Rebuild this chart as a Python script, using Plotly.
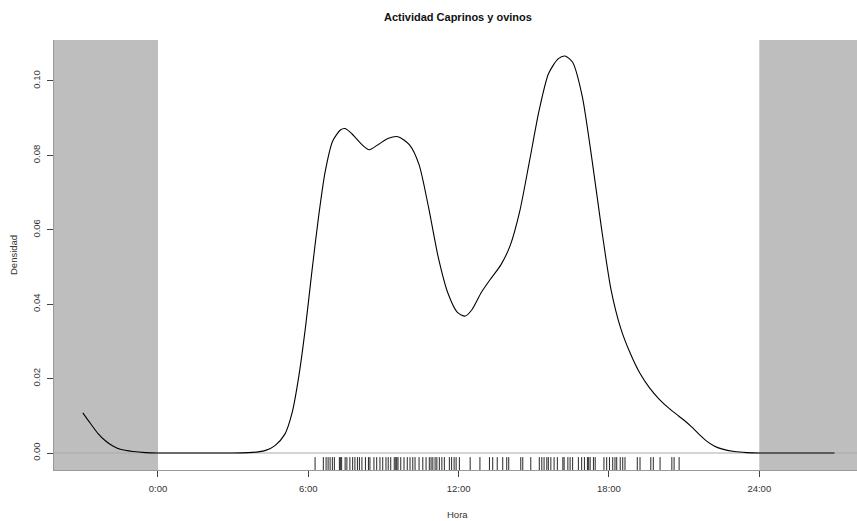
import plotly.graph_objects as go

# ---- data ----
curve_hour = [-3.0, -2.7, -2.4, -2.1, -1.8, -1.5, -1.0, -0.5, 0.0, 1.0, 2.0, 3.0, 3.6, 4.0, 4.3,
              4.67, 5.06, 5.36, 5.63, 5.9, 6.13, 6.4, 6.67, 6.97, 7.28, 7.47, 7.74, 8.12, 8.43,
              8.81, 9.2, 9.58, 10.04, 10.42, 10.8, 11.19, 11.57, 11.95, 12.26, 12.53, 12.91,
              13.3, 13.68, 14.06, 14.44, 14.83, 15.21, 15.59, 15.98, 16.25, 16.55, 16.93, 17.32,
              17.7, 18.08, 18.47, 18.85, 19.23, 19.62, 20.0, 20.4, 20.77, 21.0, 21.3, 21.6, 21.9,
              22.2, 22.5, 23.0, 23.5, 24.0, 25.0, 26.0, 27.0]
curve_dens = [0.0108, 0.0080, 0.0053, 0.0033, 0.0019, 0.0010, 0.0004, 0.0001, 0.0, 0.0, 0.0, 0.0,
              0.0001, 0.0003, 0.0007, 0.0020, 0.0050, 0.0110, 0.0210, 0.0345, 0.0480, 0.0630,
              0.0755, 0.0838, 0.0868, 0.0872, 0.0858, 0.0830, 0.0815, 0.0830, 0.0846, 0.0850,
              0.0828, 0.0775, 0.0660, 0.0525, 0.0430, 0.0378, 0.0368, 0.0385, 0.0432, 0.0470,
              0.0505, 0.0558, 0.0650, 0.0785, 0.0920, 0.1020, 0.1060, 0.1067, 0.1050, 0.0960,
              0.0790, 0.0605, 0.0440, 0.0335, 0.0268, 0.0215, 0.0175, 0.0145, 0.0120, 0.0100,
              0.0088, 0.0070, 0.0050, 0.0032, 0.0019, 0.0011, 0.0004, 0.0001, 0.0, 0.0, 0.0, 0.0]

rug_hours = [6.27, 6.60, 6.71, 6.79, 6.87, 6.96, 7.04, 7.24, 7.28, 7.33, 7.47, 7.54, 7.66, 7.77,
             7.86, 7.96, 8.04, 8.14, 8.28, 8.40, 8.46, 8.62, 8.73, 8.86, 8.97, 9.10, 9.19, 9.29,
             9.43, 9.49, 9.53, 9.58, 9.69, 9.82, 9.95, 10.06, 10.17, 10.26, 10.42, 10.57, 10.70,
             10.83, 10.90, 10.97, 11.06, 11.13, 11.23, 11.33, 11.43, 11.63, 11.72, 11.82, 11.90,
             12.03, 12.46, 12.85, 13.23, 13.36, 13.54, 13.76, 13.92, 14.00, 14.48, 14.56, 14.88,
             15.22, 15.32, 15.41, 15.52, 15.58, 15.68, 15.81, 15.94, 16.16, 16.21, 16.36, 16.45,
             16.55, 16.78, 16.91, 17.02, 17.14, 17.19, 17.25, 17.38, 17.45, 17.80, 17.91, 18.02,
             18.15, 18.24, 18.31, 18.45, 18.55, 18.64, 19.13, 19.24, 19.67, 19.77, 20.04, 20.51,
             20.60, 20.80]

tick_vals_x = [0, 6, 12, 18, 24]
tick_text_x = ["0:00", "6:00", "12:00", "18:00", "24:00"]
tick_vals_y = [0.00, 0.02, 0.04, 0.06, 0.08, 0.10]
tick_text_y = ["0.00", "0.02", "0.04", "0.06", "0.08", "0.10"]

title_text = "Actividad Caprinos y ovinos"
x_title = "Hora"
y_title = "Densidad"

X_RANGE = [-4.15, 27.9]
Y_RANGE = [-0.00457, 0.1110]
FONT = "Liberation Sans, Arial, sans-serif"

fig = go.Figure()

# rug
rug_bottom = Y_RANGE[0]
rug_top = Y_RANGE[0] + 0.03 * (Y_RANGE[1] - Y_RANGE[0])
rx, ry = [], []
for h in rug_hours:
    rx += [h, h, None]
    ry += [rug_bottom, rug_top, None]
fig.add_trace(go.Scatter(x=rx, y=ry, mode="lines", line=dict(color="rgba(0,0,0,0.85)", width=1),
                         hoverinfo="skip", showlegend=False))

# density curve
fig.add_trace(go.Scatter(x=curve_hour, y=curve_dens, mode="lines",
                         line=dict(color="black", width=1.1, shape="spline", smoothing=0.7),
                         showlegend=False))

shapes = [
    dict(type="rect", xref="x", yref="paper", x0=-10, x1=0, y0=0, y1=1,
         fillcolor="#BEBEBE", line=dict(width=0), layer="below"),
    dict(type="rect", xref="x", yref="paper", x0=24, x1=40, y0=0, y1=1,
         fillcolor="#BEBEBE", line=dict(width=0), layer="below"),
    dict(type="line", xref="paper", yref="y", x0=0, x1=1, y0=0, y1=0,
         line=dict(color="#AAAAAA", width=1), layer="below"),
]

fig.update_layout(
    width=857, height=521,
    margin=dict(l=54, r=0, t=40, b=51),
    paper_bgcolor="white", plot_bgcolor="white",
    shapes=shapes,
    font=dict(family=FONT, size=9, color="#333333"),
    xaxis=dict(range=X_RANGE, tickvals=tick_vals_x, ticktext=tick_text_x,
               showgrid=False, zeroline=False, showline=True, linecolor="#999999", linewidth=1,
               ticks="outside", ticklen=6, tickcolor="#444444", ticklabelstandoff=4,
               tickfont=dict(family=FONT, size=9.5, color="#333333")),
    yaxis=dict(range=Y_RANGE, tickvals=tick_vals_y, ticktext=tick_text_y,
               showgrid=False, zeroline=False, showline=True, linecolor="#999999", linewidth=1,
               ticks="outside", ticklen=6, tickcolor="#444444", tickangle=-90,
               ticklabelstandoff=3,
               tickfont=dict(family=FONT, size=9.5, color="#333333")),
    annotations=[
        dict(text="<b>" + title_text + "</b>", xref="paper", yref="paper", x=0.503, y=1,
             yshift=23, xanchor="center", yanchor="middle", showarrow=False,
             font=dict(family=FONT, size=11, color="#111111")),
        dict(text=x_title, xref="paper", yref="paper", x=0.503, y=0, yshift=-44,
             xanchor="center", yanchor="middle", showarrow=False,
             font=dict(family=FONT, size=9.5, color="#333333")),
        dict(text=y_title, xref="paper", yref="paper", x=0, xshift=-41, y=0.5,
             xanchor="center", yanchor="middle", textangle=-90, showarrow=False,
             font=dict(family=FONT, size=9.5, color="#333333")),
    ],
)

fig.write_html("out.html")
